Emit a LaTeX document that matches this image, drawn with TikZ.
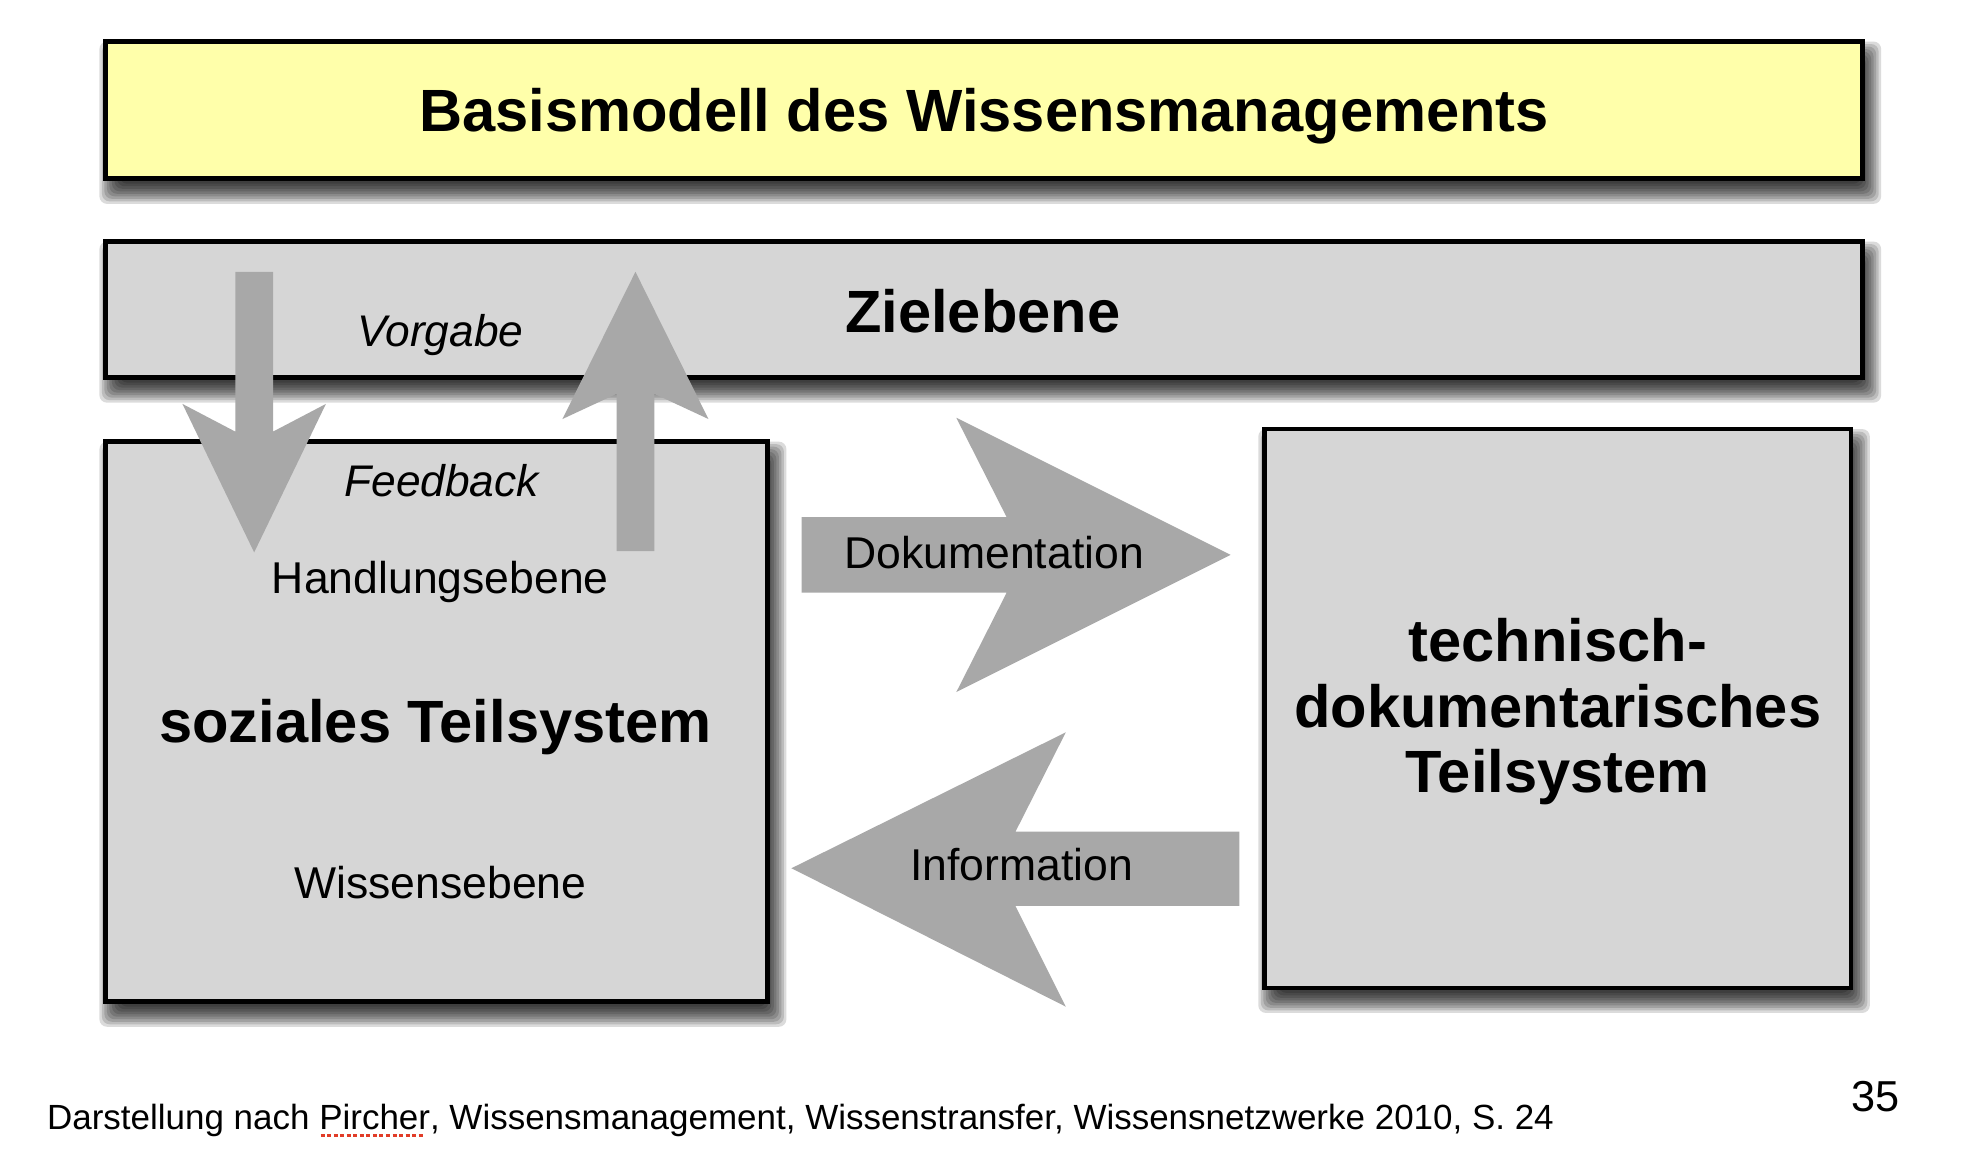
\documentclass[tikz,border=0pt]{standalone}
\usepackage{fontspec}
\setmainfont{Liberation Sans}
\usetikzlibrary{backgrounds}
\definecolor{titlefill}{RGB}{255,255,170}
\definecolor{boxfill}{RGB}{214,214,214}
\definecolor{arrowfill}{RGB}{168,168,168}
\definecolor{spellred}{RGB}{225,60,40}
\newsavebox{\spellbox}
\newcommand{\spellmark}[1]{\sbox{\spellbox}{#1}\rlap{\raisebox{-2.8pt}{\color{spellred}\leaders\hbox to 2.6pt{\hss\vrule width 1.6pt height 1pt\hss}\hskip\wd\spellbox}}\usebox{\spellbox}}
% soft drop shadow behind a named node: stacked translucent rectangles
\newcommand{\castshadow}[1]{%
  \foreach \g in {0,...,8}{%
    \fill[black, fill opacity=0.14, rounded corners=3pt]
      ([shift={({(5.5-\g)*1pt},{(\g-8)*1pt})}]#1.north west) rectangle
      ([shift={({(\g-0.5)*1pt},{(-2-\g)*1pt})}]#1.south east);
  }}
\begin{document}
\begin{tikzpicture}[x=0.5pt,y=-0.5pt,
  panel/.style={draw=black, line width=1.8pt, inner sep=0pt, outer sep=0pt},
  blockarrow/.style={fill=arrowfill, draw=none},
  boldfont/.style={font=\fontsize{23.7}{26}\selectfont\bfseries},
  boldlabel/.style={boldfont, inner sep=0pt, anchor=base},
  plainlabel/.style={font=\fontsize{17.7}{20}\selectfont, inner sep=0pt, anchor=base},
  itlabel/.style={font=\fontsize{17.6}{20}\selectfont\itshape, inner sep=0pt, anchor=base},
]
\path[use as bounding box] (0,0) rectangle (1568,927);

% panels
\node[panel, fill=titlefill, minimum width=698pt, minimum height=54.5pt,
      boldfont, text height=17pt, text depth=0pt] (title) at (782,87.5)
      {Basismodell des Wissensmanagements};
\node[panel, fill=boxfill, minimum width=698pt, minimum height=54pt] (ziel) at (782,246) {};
\node[panel, fill=boxfill, minimum width=263pt, minimum height=222.5pt] (sozial) at (347,573.5) {};
\node[panel, fill=boxfill, minimum width=233pt, minimum height=222pt] (technisch) at (1238,563) {};

\begin{scope}[on background layer]
  \fill[white] (0,0) rectangle (1568,927);
  \castshadow{title}
  \castshadow{ziel}
  \castshadow{sozial}
  \castshadow{technisch}
\end{scope}

% labels inside panels
\node[boldlabel] (zieltext) at (781,264) {Zielebene};
\node[itlabel] (vorgabe) at (350,275) {Vorgabe};
\node[itlabel] (feedback) at (351,394.5) {Feedback};
\node[plainlabel] (handlung) at (350,472) {Handlungsebene};
\node[boldlabel] (soztext) at (346,590) {soziales Teilsystem};
\node[plainlabel] (wissen) at (350,714) {Wissensebene};
\node[boldlabel] (tech1) at (1238,526) {technisch-};
\node[boldlabel] (tech2) at (1238,578.5) {dokumentarisches};
\node[boldlabel] (tech3) at (1238,630) {Teilsystem};

% block arrows
\fill[blockarrow] (187,216) -- (217,216) -- (217,343) -- (259,321) -- (202,439)
  -- (145,321) -- (187,343) -- cycle;
\fill[blockarrow] (490,438) -- (520,438) -- (520,313) -- (563,333) -- (505,216)
  -- (447,333) -- (490,313) -- cycle;
\fill[blockarrow] (637,411) -- (800,411) -- (760,332) -- (978,441) -- (760,550)
  -- (800,471) -- (637,471) -- cycle;
\fill[blockarrow] (985,661) -- (807,661) -- (847,582) -- (629,690) -- (847,800)
  -- (807,720) -- (985,720) -- cycle;

\node[plainlabel] (doku) at (790,452) {Dokumentation};
\node[plainlabel] (info) at (812,700) {Information};

% footer
\node[font=\fontsize{13.9}{16}\selectfont, inner sep=0pt, anchor=base west] (footer) at (37,898)
  {Darstellung nach \spellmark{Pircher}, Wissensmanagement, Wissenstransfer, Wissensnetzwerke 2010, S. 24};
\node[font=\fontsize{17.2}{20}\selectfont, inner sep=0pt, anchor=base east] (pagenum) at (1510,883) {35};
\end{tikzpicture}
\end{document}
